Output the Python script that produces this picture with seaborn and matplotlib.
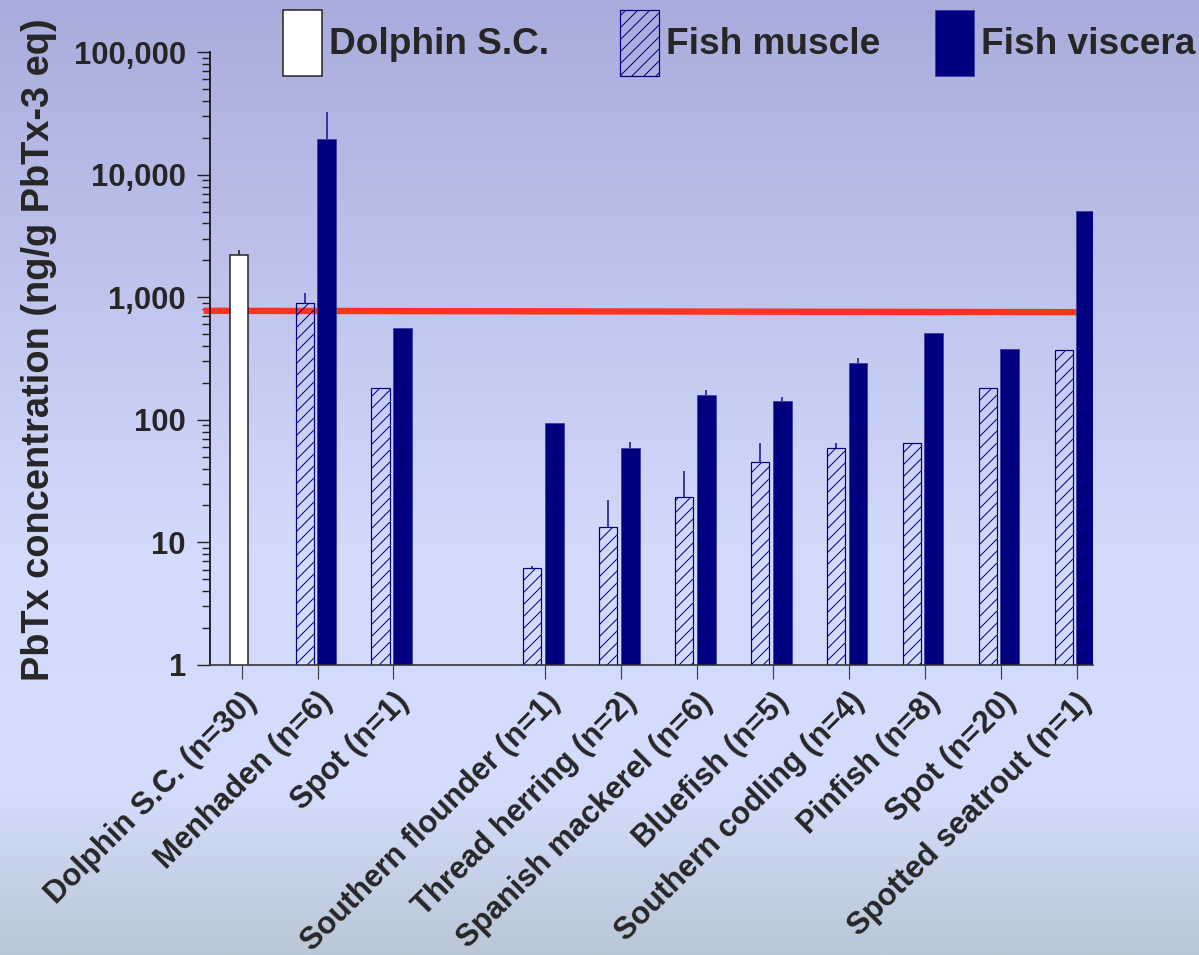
import numpy as np
import pandas as pd
import matplotlib
matplotlib.use("Agg")
import matplotlib.pyplot as plt
import seaborn as sns
from matplotlib.colors import LinearSegmentedColormap
from matplotlib.ticker import FuncFormatter, LogLocator, NullFormatter

# ---- data: brevetoxin concentrations (ng/g PbTx-3 eq), mean and upper error ----
species = [
    "Dolphin S.C. (n=30)", "Menhaden (n=6)", "Spot (n=1)",
    "Southern flounder (n=1)", "Thread herring (n=2)", "Spanish mackerel (n=6)",
    "Bluefish (n=5)", "Southern codling (n=4)", "Pinfish (n=8)",
    "Spot (n=20)", "Spotted seatrout (n=1)",
]
dolphin_sc = [2210, np.nan, np.nan, np.nan, np.nan, np.nan, np.nan, np.nan, np.nan, np.nan, np.nan]
dolphin_sc_upper = [2430, np.nan, np.nan, np.nan, np.nan, np.nan, np.nan, np.nan, np.nan, np.nan, np.nan]
fish_muscle = [np.nan, 892, 183, 6.2, 13.3, 23.5, 45.5, 59.2, 65, 182, 373]
fish_muscle_upper = [np.nan, 1076, np.nan, 6.4, 22.2, 38.2, 65, 64.3, np.nan, np.nan, np.nan]
fish_viscera = [np.nan, 19500, 564, 93.6, 59.2, 158, 142, 289, 508, 376, 5080]
fish_viscera_upper = [np.nan, 32200, np.nan, np.nan, 65.5, 175, 153, 321, np.nan, np.nan, np.nan]
regulatory_level = [775, 755]
y_ticks = [1, 10, 100, 1000, 10000, 100000]

# ---- style ----
NAVY = "#000080"
DPI = 144
sns.set_theme(style="ticks")
plt.rcParams["font.family"] = ["Liberation Sans", "DejaVu Sans"]
plt.rcParams["font.weight"] = "bold"
plt.rcParams["hatch.linewidth"] = 0.5

fig = plt.figure(figsize=(1199 / DPI, 955 / DPI), dpi=DPI)

# slide-style vertical gradient behind everything
bg = fig.add_axes([0, 0, 1, 1], zorder=-10)
bg_cmap = LinearSegmentedColormap.from_list(
    "slide_bg",
    [(0.0, "#a8acdc"), (0.58, "#d3dbfc"), (0.83, "#d4ddfc"), (1.0, "#b9c7d6")],
)
bg.imshow(np.linspace(0, 1, 512)[:, None], aspect="auto", cmap=bg_cmap,
          extent=[0, 1, 0, 1], origin="upper")
bg.set_axis_off()

ax = fig.add_axes([0.1751, 0.3037, 0.7365, 0.6418])
ax.set_facecolor("none")

# group slots, leaving an empty slot between the first three groups and the rest
idx = np.arange(len(species))
slot = idx + (idx >= 3)
off_dolphin, off_muscle, off_viscera = -0.03, -0.17, 0.12

df = pd.DataFrame({
    "slot": slot,
    "dolphin": dolphin_sc, "dolphin_up": dolphin_sc_upper,
    "muscle": fish_muscle, "muscle_up": fish_muscle_upper,
    "viscera": fish_viscera, "viscera_up": fish_viscera_upper,
})

d = df.dropna(subset=["dolphin"]).assign(x=lambda t: t["slot"] + off_dolphin)
m = df.dropna(subset=["muscle"]).assign(x=lambda t: t["slot"] + off_muscle)
v = df.dropna(subset=["viscera"]).assign(x=lambda t: t["slot"] + off_viscera)

sns.barplot(data=d, x="x", y="dolphin", native_scale=True, orient="x", width=0.235,
            color="white", saturation=1, edgecolor="#202020", linewidth=0.75,
            errorbar=None, label="Dolphin S.C.", ax=ax, zorder=2)
sns.barplot(data=m, x="x", y="muscle", native_scale=True, orient="x", width=0.24,
            fill=False, color=NAVY, saturation=1, hatch="////", linewidth=0.6,
            errorbar=None, label="Fish muscle", ax=ax, zorder=2)
sns.barplot(data=v, x="x", y="viscera", native_scale=True, orient="x", width=0.25,
            color=NAVY, saturation=1, edgecolor="#3a3aa0", linewidth=0.4,
            errorbar=None, label="Fish viscera", ax=ax, zorder=2)
if ax.get_legend() is not None:
    ax.get_legend().remove()

# upward-only error bars
for frame, col, colour in [(d, "dolphin", "#303030"), (m, "muscle", "#2a2a9a"),
                           (v, "viscera", "#2a2a9a")]:
    e = frame.dropna(subset=[col + "_up"])
    ax.vlines(e["x"], e[col], e[col + "_up"], color=colour, lw=0.9, zorder=1.5)

ax.set_yscale("log")
ax.set_ylim(1, 100000)
ax.set_xlim(-0.418, 11.216)

# regulatory guidance level
ax.plot([-0.5, 11.216], regulatory_level, color="#ff3322", lw=3.2,
        solid_capstyle="butt", clip_on=False, zorder=1)

# axes styling
for s in ["top", "right"]:
    ax.spines[s].set_visible(False)
ax.spines["left"].set_color("black")
ax.spines["left"].set_linewidth(0.8)
ax.spines["bottom"].set_color("#303030")
ax.spines["bottom"].set_linewidth(0.8)

ax.yaxis.set_minor_locator(LogLocator(base=10, subs=np.arange(2, 10), numticks=10))
ax.yaxis.set_minor_formatter(NullFormatter())
ax.set_yticks(y_ticks)
ax.yaxis.set_major_formatter(FuncFormatter(lambda val, pos: f"{val:,.0f}"))
ax.tick_params(axis="y", which="major", length=6.5, width=0.7, color="#202020",
               pad=5.5, labelsize=15.5)
ax.tick_params(axis="y", which="minor", length=4, width=0.7, color="#202020")
for t in ax.get_yticklabels():
    t.set_fontweight("bold")

ax.set_xticks(slot)
ax.set_xticklabels(species, rotation=45, ha="right", va="top",
                   rotation_mode="anchor", fontsize=15.5, fontweight="bold")
ax.tick_params(axis="x", which="major", length=7, width=0.6, color="#404040", pad=4)
ax.tick_params(axis="x", which="minor", length=0)

ax.set_xlabel("")
ax.set_ylabel("PbTx concentration (ng/g PbTx-3 eq)", fontsize=19, fontweight="bold")
ax.yaxis.set_label_coords(-0.173, 0.515)

# one legend entry per key, spread across the top
handles, labels = ax.get_legend_handles_labels()
for h, lab, x_left in zip(handles, labels, [0.236, 0.517, 0.780]):
    fig.legend([h], [lab], loc="center left", bbox_to_anchor=(x_left, 0.955),
               frameon=False, prop={"size": 18.5, "weight": "bold"},
               handlelength=1.06, handleheight=2.35, handletextpad=0.18,
               borderpad=0, borderaxespad=0)

fig.savefig("out.png", dpi=DPI)
